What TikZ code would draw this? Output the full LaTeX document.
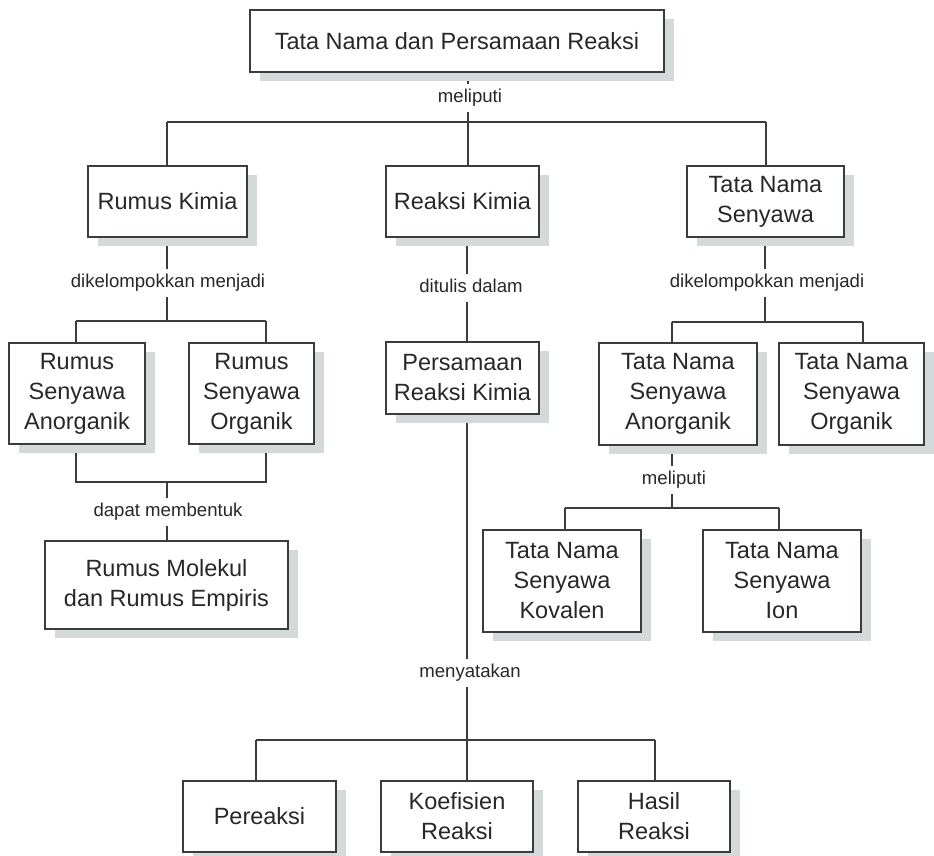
\documentclass[tikz,border=0pt]{standalone}
\usepackage{fontspec}
\setmainfont{Liberation Sans}
\usetikzlibrary{shadows}
\definecolor{shd}{RGB}{212,217,217}
\definecolor{ink}{RGB}{40,40,40}
\definecolor{linec}{RGB}{60,60,60}
\pgfdeclarelayer{background}
\pgfsetlayers{background,main}
\newcommand{\boxfont}{\fontsize{23.5}{30}\selectfont}
\newcommand{\lblfont}{\fontsize{18.6}{22}\selectfont}
\tikzset{
  box/.style={draw=linec, line width=1.2pt, fill=white, text=ink, align=center,
    inner sep=0pt, font=\boxfont,
    general shadow={fill=shd, shadow xshift=10pt, shadow yshift=-9pt}},
  lbl/.style={fill=white, text=ink, font=\lblfont, inner xsep=3pt, inner ysep=5pt,
    text height=13.5pt, text depth=4pt},
  conn/.style={draw=linec, line width=1.2pt}
}
\begin{document}
\begin{tikzpicture}[x=1pt, y=-1pt]
\useasboundingbox (0,0) rectangle (934,855);
% boxes
\node[box, minimum width=414pt, minimum height=62pt] (top) at (457,41) {Tata Nama dan Persamaan Reaksi};
\node[box, minimum width=159pt, minimum height=71pt] (rumus) at (167.5,201.5) {Rumus Kimia};
\node[box, minimum width=153pt, minimum height=71pt] (reaksi) at (462.5,201.5) {Reaksi Kimia};
\node[box, minimum width=157pt, minimum height=71pt] (tns) at (765.5,201.5) {Tata Nama\\Senyawa};
\node[box, minimum width=136pt, minimum height=101pt] (rsa) at (77,393.5) {Rumus\\Senyawa\\Anorganik};
\node[box, minimum width=125pt, minimum height=101pt] (rso) at (251.5,393.5) {Rumus\\Senyawa\\Organik};
\node[box, minimum width=153pt, minimum height=72pt] (pers) at (462.5,378) {Persamaan\\Reaksi Kimia};
\node[box, minimum width=158pt, minimum height=102pt] (tnsa) at (678,394) {Tata Nama\\Senyawa\\Anorganik};
\node[box, minimum width=145pt, minimum height=102pt] (tnso) at (851.5,394) {Tata Nama\\Senyawa\\Organik};
\node[box, minimum width=243pt, minimum height=88pt] (mol) at (166.5,585) {Rumus Molekul\\dan Rumus Empiris};
\node[box, minimum width=158pt, minimum height=102pt] (kov) at (562,581) {Tata Nama\\Senyawa\\Kovalen};
\node[box, minimum width=158pt, minimum height=102pt] (ion) at (782,581) {Tata Nama\\Senyawa\\Ion};
\node[box, minimum width=153pt, minimum height=71pt] (pere) at (259.5,816.5) {Pereaksi};
\node[box, minimum width=152pt, minimum height=71pt] (koef) at (457,816.5) {Koefisien\\Reaksi};
\node[box, minimum width=152pt, minimum height=71pt] (hasil) at (654,816.5) {Hasil\\Reaksi};
% junction coordinates
\coordinate (hA) at (167,122); \coordinate (hB) at (468,122); \coordinate (hC) at (766,122);
\coordinate (rA) at (76,321); \coordinate (rB) at (167,321); \coordinate (rC) at (266,321);
\coordinate (mA) at (76,482); \coordinate (mB) at (167,482); \coordinate (mC) at (266,482);
\coordinate (cx) at (467,300);
\coordinate (pA) at (256,740); \coordinate (pB) at (467,740); \coordinate (pC) at (655,740);
\coordinate (tA) at (672,322); \coordinate (tB) at (765,322); \coordinate (tC) at (863,322);
\coordinate (kA) at (565,508); \coordinate (kB) at (672,508); \coordinate (kC) at (779,508);
% connectors
\begin{pgfonlayer}{background}
\draw[conn] (top.south -| hB) -- (hB);
\draw[conn] (hA) -- (hC);
\draw[conn] (hA) -- (rumus.north -| hA);
\draw[conn] (hB) -- (reaksi.north -| hB);
\draw[conn] (hC) -- (tns.north -| hC);
\draw[conn] (rumus.south -| rB) -- (rB);
\draw[conn] (rA) -- (rC);
\draw[conn] (rA) -- (rsa.north -| rA);
\draw[conn] (rC) -- (rso.north -| rC);
\draw[conn] (rsa.south -| mA) -- (mA) -- (mC) -- (rso.south -| mC);
\draw[conn] (mB) -- (mol.north -| mB);
\draw[conn] (reaksi.south -| cx) -- (pers.north -| cx);
\draw[conn] (pers.south -| pB) -- (pB);
\draw[conn] (pA) -- (pC);
\draw[conn] (pA) -- (pere.north -| pA);
\draw[conn] (pB) -- (koef.north -| pB);
\draw[conn] (pC) -- (hasil.north -| pC);
\draw[conn] (tns.south -| tB) -- (tB);
\draw[conn] (tA) -- (tC);
\draw[conn] (tA) -- (tnsa.north -| tA);
\draw[conn] (tC) -- (tnso.north -| tC);
\draw[conn] (tnsa.south -| kB) -- (kB);
\draw[conn] (kA) -- (kC);
\draw[conn] (kA) -- (kov.north -| kA);
\draw[conn] (kC) -- (ion.north -| kC);
\end{pgfonlayer}
% labels
\node[lbl] (l1) at (470,98) {meliputi};
\node[lbl] (l2) at (168,283) {dikelompokkan menjadi};
\node[lbl] (l3) at (168,512) {dapat membentuk};
\node[lbl] (l4) at (471,288) {ditulis dalam};
\node[lbl] (l5) at (470,673) {menyatakan};
\node[lbl] (l6) at (767,283) {dikelompokkan menjadi};
\node[lbl] (l7) at (674,480) {meliputi};
\end{tikzpicture}
\end{document}
